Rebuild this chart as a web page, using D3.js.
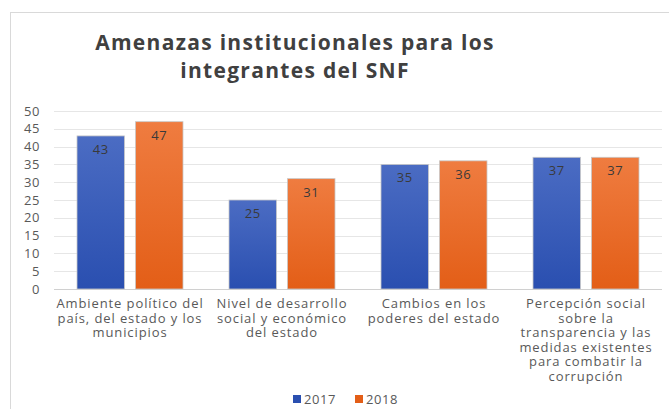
<!DOCTYPE html>
<html>
<head>
<meta charset="utf-8">
<script src="https://cdn.jsdelivr.net/npm/d3@7"></script>
<style>
  body { margin: 0; background: #fff; }
  svg { display: block; font-family: "Open Sans", "Liberation Sans", sans-serif; }
</style>
</head>
<body>
<svg id="chart" width="669" height="409"></svg>
<script>
// data
var categories = ["c1", "c2", "c3", "c4"];
var categoryLines = [
  ["Ambiente político del", "país, del estado y los", "municipios"],
  ["Nivel de desarrollo", "social y económico", "del estado"],
  ["Cambios en los", "poderes del estado"],
  ["Percepción social", "sobre la", "transparencia y las", "medidas existentes", "para combatir la", "corrupción"]
];
var seriesNames = ["2017", "2018"];
var values2017 = [43, 25, 35, 37];
var values2018 = [47, 31, 36, 37];
var yTicks = [0, 5, 10, 15, 20, 25, 30, 35, 40, 45, 50];
var titleLines = ["Amenazas institucionales para los", "integrantes del SNF"];

var seriesValues = [values2017, values2018];
var colors = {
  "2017": ["#4b6cc3", "#2a4fb0"],
  "2018": ["#ef7c40", "#e35e17"]
};

var svg = d3.select("#chart");

// chart frame
svg.append("rect")
  .attr("x", 10.5).attr("y", 12.5)
  .attr("width", 680).attr("height", 420)
  .attr("fill", "#fff")
  .attr("stroke", "#d9d9d9");

// gradients
var defs = svg.append("defs");
seriesNames.forEach(function (s) {
  var g = defs.append("linearGradient")
    .attr("id", "grad" + s)
    .attr("x1", 0).attr("y1", 0).attr("x2", 0).attr("y2", 1);
  g.append("stop").attr("offset", "0%").attr("stop-color", colors[s][0]);
  g.append("stop").attr("offset", "100%").attr("stop-color", colors[s][1]);
});

// title
svg.append("text")
  .attr("x", 295).attr("y", 50)
  .attr("text-anchor", "middle")
  .attr("font-size", 21)
  .attr("font-weight", "bold")
  .attr("letter-spacing", 1.3)
  .attr("fill", "#404040")
  .selectAll("tspan")
  .data(titleLines)
  .join("tspan")
  .attr("x", 295)
  .attr("dy", function (d, i) { return i ? 28 : 0; })
  .text(function (d) { return d; });

// scales
var y = d3.scaleLinear().domain([0, 50]).range([289, 111]);
var x0 = d3.scaleBand().domain(categories).range([54, 662])
  .paddingInner(46 / 152).paddingOuter(23 / 152);
var x1 = d3.scaleBand().domain(seriesNames).range([0, x0.bandwidth()])
  .paddingInner(10 / 53);

// gridlines
svg.append("g")
  .selectAll("line")
  .data(yTicks)
  .join("line")
  .attr("x1", 54).attr("x2", 662)
  .attr("y1", function (d) { return Math.round(y(d)) + 0.5; })
  .attr("y2", function (d) { return Math.round(y(d)) + 0.5; })
  .attr("stroke", function (d) { return d === 0 ? "#d0d0d0" : "#e6e6e6"; });

// y axis
var yAxis = svg.append("g")
  .attr("transform", "translate(40,0)")
  .call(d3.axisLeft(y).tickValues(yTicks).tickSize(0).tickPadding(0));
yAxis.select(".domain").remove();
yAxis.selectAll("text")
  .attr("font-size", 13)
  .attr("letter-spacing", 0.6)
  .attr("fill", "#595959")
  .attr("font-family", "\"Open Sans\", sans-serif");

// bars
var groups = svg.append("g")
  .selectAll("g")
  .data(categories)
  .join("g")
  .attr("transform", function (d) { return "translate(" + x0(d) + ",0)"; });

groups.selectAll("rect")
  .data(function (d, i) {
    return seriesNames.map(function (s, j) { return { s: s, v: seriesValues[j][i] }; });
  })
  .join("rect")
  .attr("x", function (d) { return x1(d.s); })
  .attr("y", function (d) { return y(d.v); })
  .attr("width", x1.bandwidth())
  .attr("height", function (d) { return y(0) - y(d.v); })
  .attr("fill", function (d) { return "url(#grad" + d.s + ")"; })
  .attr("stroke", "#c8c8c8")
  .attr("stroke-width", 0.8);

groups.selectAll("text.val")
  .data(function (d, i) {
    return seriesNames.map(function (s, j) { return { s: s, v: seriesValues[j][i] }; });
  })
  .join("text")
  .attr("class", "val")
  .attr("x", function (d) { return x1(d.s) + x1.bandwidth() / 2; })
  .attr("y", function (d) { return y(d.v) + 18; })
  .attr("text-anchor", "middle")
  .attr("font-size", 13)
  .attr("letter-spacing", 0.6)
  .attr("fill", "#3a3a3a")
  .text(function (d) { return d.v; });

// category labels
svg.append("g")
  .selectAll("text")
  .data(categories)
  .join("text")
  .attr("text-anchor", "middle")
  .attr("font-size", 13)
  .attr("letter-spacing", 0.9)
  .attr("fill", "#595959")
  .each(function (d, i) {
    var cx = x0(d) + x0.bandwidth() / 2;
    d3.select(this).selectAll("tspan")
      .data(categoryLines[i])
      .join("tspan")
      .attr("x", cx)
      .attr("y", function (l, k) { return 308 + k * 14.6; })
      .text(function (l) { return l; });
  });

// legend
var legend = svg.append("g")
  .selectAll("g")
  .data(seriesNames)
  .join("g")
  .attr("transform", function (d, i) { return "translate(" + (293 + i * 62) + ",395)"; });
legend.append("rect")
  .attr("width", 8).attr("height", 8)
  .attr("fill", function (d) { return colors[d][1]; });
legend.append("text")
  .attr("x", 11).attr("y", 9)
  .attr("font-size", 13)
  .attr("letter-spacing", 0.6)
  .attr("fill", "#595959")
  .text(function (d) { return d; });
</script>
</body>
</html>
